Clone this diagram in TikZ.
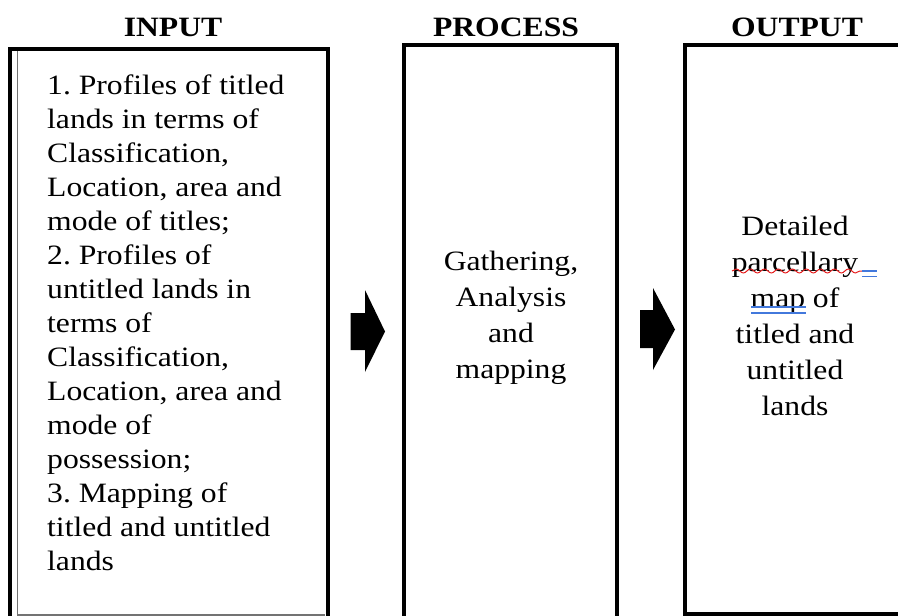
\documentclass[tikz,border=0pt]{standalone}
\usepackage{fontspec}
\setmainfont{Liberation Serif}[FakeStretch=1.13]
\usetikzlibrary{decorations.pathmorphing}
\definecolor{wordblue}{RGB}{66,120,220}
\definecolor{wordred}{RGB}{230,30,30}
\frenchspacing
\tikzset{
  thickbox/.style={draw=black, line width=4pt},
  thinline/.style={draw=black!55, line width=1.2pt},
  heading/.style={font={\fontsize{28}{34}\selectfont\bfseries}, inner sep=0pt, anchor=base},
  bodytext/.style={font={\fontsize{28}{34}\selectfont}, inner sep=0pt},
  centertext/.style={font={\fontsize{28}{36}\selectfont}, inner sep=0pt, align=center},
  blockarrow/.style={fill=black},
  spellwave/.style={draw=wordred, line width=1pt, decorate, decoration={snake, segment length=14pt, amplitude=2pt}},
  grammarline/.style={draw=wordblue, line width=1.6pt}
}
\begin{document}
\begin{tikzpicture}[x=1pt, y=-1pt]
\useasboundingbox (0,0) rectangle (898,616);
\clip (0,0) rectangle (898,616);
\fill[white] (0,0) rectangle (898,616);

% headings
\node[heading] (hin) at (173,36) {INPUT};
\node[heading] (hproc) at (506,36) {PROCESS};
\node[heading] (hout) at (797,36) {OUTPUT};

% input box (outer thick, inner thin)
\draw[thickbox] (10,700) -- (10,49) -- (327.5,49) -- (327.5,700);
\draw[thinline] (17.5,51) -- (17.5,615) -- (325,615);

% process box
\draw[thickbox] (404,700) -- (404,45) -- (617,45) -- (617,700);

% output box
\draw[thickbox] (950,613.5) -- (685,613.5) -- (685,45) -- (950,45);

% input text
\node[bodytext, anchor=north west, align=left] (intext) at (47,75) {%
1. Profiles of titled\\
lands in terms of\\
Classification,\\
Location, area and\\
mode of titles;\\
2. Profiles of\\
untitled lands in\\
terms of\\
Classification,\\
Location, area and\\
mode of\\
possession;\\
3. Mapping of\\
titled and untitled\\
lands};

% process text
\node[centertext, anchor=north] (proctext) at (511,250.5) {%
Gathering,\\
Analysis\\
and\\
mapping};

% output text
\node[centertext, anchor=north] (outtext) at (795,215.5) {%
Detailed\\
parcellary\\
map of\\
titled and\\
untitled\\
lands};

% proofing marks
\coordinate (w1) at (732,271);
\coordinate (w2) at (862,271);
\draw[spellwave] (w1) -- (w2);
\coordinate (e1) at (862,271);
\coordinate (e2) at (877,271);
\coordinate (e3) at (862,276.5);
\coordinate (e4) at (877,276.5);
\draw[grammarline] (e1) -- (e2);
\draw[grammarline] (e3) -- (e4);
\coordinate (m1) at (751,307);
\coordinate (m2) at (806,307);
\coordinate (m3) at (751,313);
\coordinate (m4) at (806,313);
\draw[grammarline] (m1) -- (m2);
\draw[grammarline] (m3) -- (m4);

% block arrows
\fill[blockarrow] (350.5,313) -- (365,313) -- (365,290) -- (385,331.5) -- (365,372) -- (365,350) -- (350.5,350) -- cycle;
\fill[blockarrow] (640,310) -- (653,310) -- (653,288) -- (675,329.5) -- (653,370) -- (653,348) -- (640,348) -- cycle;
\end{tikzpicture}
\end{document}
